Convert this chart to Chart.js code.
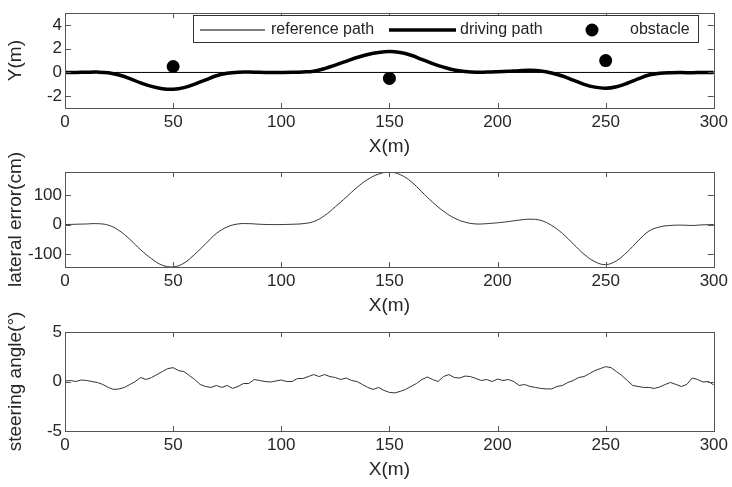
<!DOCTYPE html>
<html><head><meta charset="utf-8">
<script src="https://cdn.jsdelivr.net/npm/chart.js@4/dist/chart.umd.min.js"></script>
<style>
html,body{margin:0;padding:0;background:#fff;}
#wrap{position:relative;width:732px;height:487px;background:#fff;}
canvas{position:absolute;left:0;top:0;}
</style></head><body>
<div id="wrap">
<canvas id="c1" width="732" height="487"></canvas>
<canvas id="c2" width="732" height="487"></canvas>
<canvas id="c3" width="732" height="487"></canvas>
</div>
<script>
// ---------------- data ----------------
const xTicks = [0, 50, 100, 150, 200, 250, 300];
const pathTicks = [-2, 0, 2, 4];
const errorTicks = [-100, 0, 100];
const steerTicks = [-5, 0, 5];

const pathX = [0,5,10,15,20,25,30,35,40,45,50,55,60,65,70,75,80,85,90,95,100,105,110,115,120,125,130,135,140,145,150,155,160,165,170,175,180,185,190,195,200,205,210,215,220,225,230,235,240,245,250,255,260,265,270,275,280,285,290,295,300];
const referenceX = [0, 300];
const referenceY = [0, 0];
const drivingY = [0,0,0.02,0.03,-0.03,-0.22,-0.52,-0.88,-1.18,-1.37,-1.42,-1.28,-0.98,-0.63,-0.28,-0.07,0.02,0.03,0.01,0,0,0.01,0.04,0.11,0.32,0.62,0.94,1.26,1.52,1.69,1.76,1.68,1.45,1.1,0.75,0.45,0.21,0.08,0.02,0.03,0.06,0.1,0.15,0.18,0.13,-0.04,-0.3,-0.65,-1.0,-1.24,-1.33,-1.2,-0.91,-0.54,-0.21,-0.07,-0.02,-0.01,-0.02,0,0];
const obstacleX = [50, 150, 250];
const obstacleY = [0.5, -0.5, 1.0];

const lateralError = [0,1,2,3,-2,-20,-50,-85,-115,-137,-143,-130,-100,-65,-30,-8,2,3,1,0,0,1,3,10,30,60,92,125,152,170,177,168,145,110,75,45,22,8,2,3,6,10,15,18,14,-3,-30,-65,-100,-125,-135,-122,-92,-55,-22,-8,-3,-2,-3,-1,0];

const steerX = [0,2.5,5,7.5,10,12.5,15,17.5,20,22.5,25,27.5,30,32.5,35,37.5,40,42.5,45,47.5,50,52.5,55,57.5,60,62.5,65,67.5,70,72.5,75,77.5,80,82.5,85,87.5,90,92.5,95,97.5,100,102.5,105,107.5,110,112.5,115,117.5,120,122.5,125,127.5,130,132.5,135,137.5,140,142.5,145,147.5,150,152.5,155,157.5,160,162.5,165,167.5,170,172.5,175,177.5,180,182.5,185,187.5,190,192.5,195,197.5,200,202.5,205,207.5,210,212.5,215,217.5,220,222.5,225,227.5,230,232.5,235,237.5,240,242.5,245,247.5,250,252.5,255,257.5,260,262.5,265,267.5,270,272.5,275,277.5,280,282.5,285,287.5,290,292.5,295,297.5,300];
const steeringAngle = [0.05,0.1,0,0.15,0.1,0,-0.1,-0.3,-0.6,-0.8,-0.75,-0.6,-0.3,0,0.4,0.2,0.4,0.7,1.0,1.3,1.4,1.1,1.0,0.6,0.2,-0.3,-0.5,-0.6,-0.4,-0.6,-0.4,-0.7,-0.5,-0.2,-0.2,0.2,0.1,0,-0.05,0.05,0.15,0,0,0.3,0.3,0.5,0.7,0.5,0.7,0.5,0.4,0.2,0.35,0.1,0,-0.3,-0.6,-0.8,-0.6,-0.9,-1.1,-1.15,-1.0,-0.8,-0.5,-0.2,0.2,0.45,0.2,0,0.5,0.7,0.4,0.35,0.55,0.5,0.3,0.1,0.2,0,0.25,0.1,0.2,0,-0.4,-0.3,-0.5,-0.6,-0.7,-0.75,-0.75,-0.5,-0.4,-0.1,0.1,0.4,0.5,0.8,1.1,1.3,1.5,1.4,1.0,0.6,0.1,-0.4,-0.5,-0.6,-0.6,-0.7,-0.55,-0.3,-0.1,-0.3,-0.5,-0.3,0.35,0.2,-0.05,0,-0.35];

// ---------------- styling ----------------
const FF = '"Liberation Sans", Arial, sans-serif';
const TXT = '#262626';
const AX = '#555555';
const XH = 50;

function pts(xs, ys){ return xs.map((x,i)=>({x:x, y:ys[i]})); }

const frame = {
  id:'frame',
  afterDatasetsDraw(chart){
    const {ctx, chartArea:a, scales:{x,y}} = chart;
    ctx.save();
    ctx.strokeStyle = AX; ctx.lineWidth = 1;
    ctx.beginPath();
    x.ticks.forEach(t=>{
      const px = Math.round(x.getPixelForValue(t.value))+0.5;
      ctx.moveTo(px, a.bottom); ctx.lineTo(px, a.bottom-5);
      ctx.moveTo(px, a.top); ctx.lineTo(px, a.top+5);
    });
    y.ticks.forEach(t=>{
      const py = Math.round(y.getPixelForValue(t.value))+0.5;
      ctx.moveTo(a.left, py); ctx.lineTo(a.left+6, py);
      ctx.moveTo(a.right, py); ctx.lineTo(a.right-6, py);
    });
    ctx.stroke();
    ctx.strokeRect(Math.round(a.left)+0.5, Math.round(a.top)+0.5, Math.round(a.right-a.left), Math.round(a.bottom-a.top));
    ctx.restore();
  }
};

const legendBox = {
  id:'legendBox',
  afterDraw(chart){
    const ctx = chart.ctx;
    const ds = chart.data.datasets;
    ctx.save();
    ctx.fillStyle = '#fff';
    ctx.fillRect(193.5, 15.5, 505, 27);
    ctx.strokeStyle = '#333'; ctx.lineWidth = 1;
    ctx.strokeRect(193.5, 15.5, 505, 27);
    ctx.font = '16px ' + FF;
    ctx.fillStyle = TXT;
    ctx.textBaseline = 'middle';
    const cy = 30;
    ctx.strokeStyle = '#000'; ctx.lineWidth = 1;
    ctx.beginPath(); ctx.moveTo(200, cy); ctx.lineTo(265, cy); ctx.stroke();
    ctx.fillText(ds[0].label, 271, cy);
    ctx.lineWidth = 3.5;
    ctx.beginPath(); ctx.moveTo(389, cy); ctx.lineTo(456, cy); ctx.stroke();
    ctx.fillText(ds[1].label, 460, cy);
    ctx.fillStyle = '#000';
    ctx.beginPath(); ctx.arc(592, cy, 6.5, 0, Math.PI*2); ctx.fill();
    ctx.fillStyle = TXT;
    ctx.fillText(ds[2].label, 630, cy);
    ctx.restore();
  }
};

function opts(c){
  return {
    responsive:false, animation:false, devicePixelRatio:1,
    layout:{padding:{left:0, right:16, top:c.top, bottom:487 - c.bottom - XH}},
    plugins:{legend:{display:false}, tooltip:{enabled:false}},
    elements:{point:{radius:0}},
    scales:{
      x:{
        type:'linear', min:0, max:300,
        afterFit:s=>{ s.height = XH; },
        afterBuildTicks:s=>{ s.ticks = xTicks.map(v=>({value:v})); },
        grid:{display:false, drawTicks:false}, border:{display:false},
        ticks:{padding:4, color:TXT, font:{family:FF, size:17}, maxRotation:0, autoSkip:false},
        title:{display:true, text:'X(m)', color:TXT, font:{family:FF, size:19}, padding:{top:0, bottom:0}}
      },
      y:{
        type:'linear', min:c.ymin, max:c.ymax,
        afterFit:s=>{ s.width = 65; },
        afterBuildTicks:s=>{ s.ticks = c.yticks.map(v=>({value:v})); },
        grid:{display:false, drawTicks:false}, border:{display:false},
        ticks:{padding:3, color:TXT, font:{family:FF, size:17}, autoSkip:false},
        title:{display:true, text:c.ytitle, color:TXT, font:{family:FF, size:19}, padding:{top:4, bottom:0}}
      }
    }
  };
}

new Chart(document.getElementById('c1'), {
  type:'line',
  data:{datasets:[
    {label:'reference path', data:pts(referenceX, referenceY), borderColor:'#000', borderWidth:1, pointRadius:0, tension:0},
    {label:'driving path', data:pts(pathX, drivingY), borderColor:'#000', borderWidth:3.5, pointRadius:0, tension:0.4},
    {label:'obstacle', data:pts(obstacleX, obstacleY), showLine:false, pointRadius:6.5, pointBackgroundColor:'#000', pointBorderColor:'#000', pointBorderWidth:0}
  ]},
  options:opts({top:7, bottom:108, ymin:-3, ymax:5, yticks:pathTicks, ytitle:'Y(m)'}),
  plugins:[frame, legendBox]
});

new Chart(document.getElementById('c2'), {
  type:'line',
  data:{datasets:[
    {label:'lateral error', data:pts(pathX, lateralError), borderColor:'#333', borderWidth:1, pointRadius:0, tension:0.4}
  ]},
  options:opts({top:172, bottom:267, ymin:-143, ymax:177, yticks:errorTicks, ytitle:'lateral error(cm)'}),
  plugins:[frame]
});

new Chart(document.getElementById('c3'), {
  type:'line',
  data:{datasets:[
    {label:'steering angle', data:pts(steerX, steeringAngle), borderColor:'#333', borderWidth:1, pointRadius:0, tension:0}
  ]},
  options:opts({top:332, bottom:431, ymin:-5, ymax:5, yticks:steerTicks, ytitle:'steering angle(°)'}),
  plugins:[frame]
});
</script>
</body></html>
